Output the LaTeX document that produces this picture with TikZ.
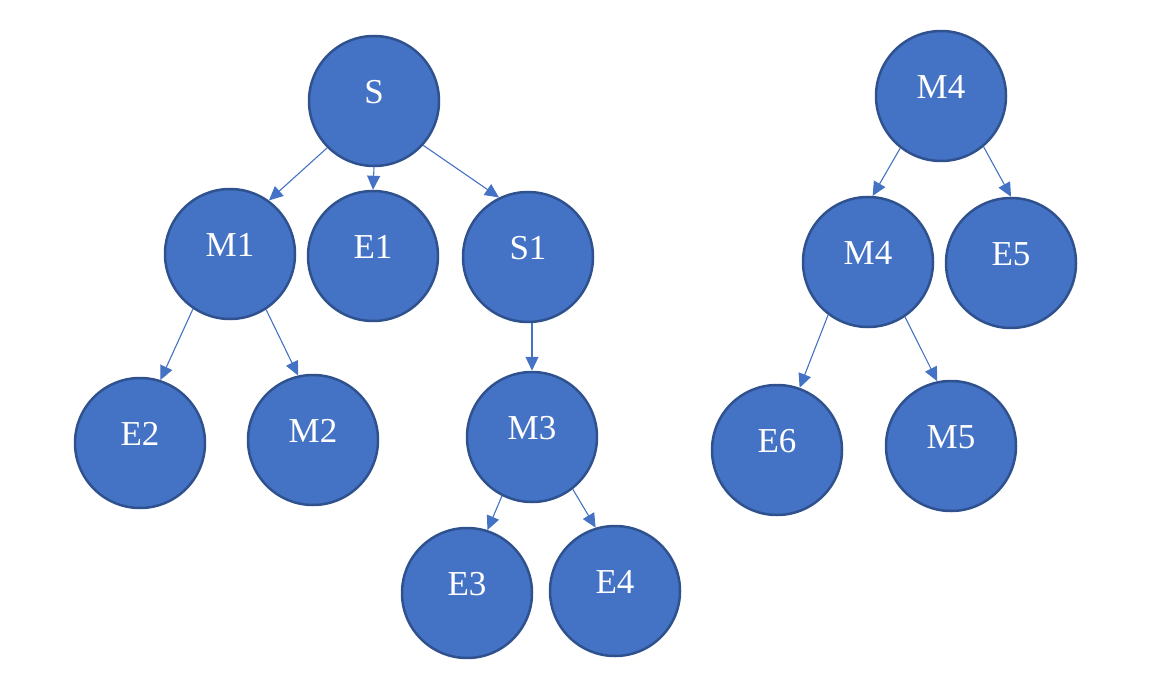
\documentclass[tikz,border=0pt]{standalone}
\usepackage{fontspec}
\setmainfont{Liberation Serif}
\usetikzlibrary{arrows.meta}
\definecolor{nodefill}{HTML}{4472C4}
\definecolor{nodeedge}{HTML}{2F528F}
\begin{document}
\begin{tikzpicture}[x=1pt,y=-1pt,
  lbl/.style={text=white,font=\fontsize{35pt}{40pt}\selectfont,yshift=9pt,inner sep=0pt},
  tnode/.style={circle,fill=nodefill,draw=nodeedge,line width=2.5pt,minimum size=130pt,inner sep=0pt,
    label={[lbl]center:#1}},
  link/.style={draw=nodefill,line width=1.1pt,-{Triangle[length=14pt,width=13pt]}}]
\useasboundingbox (0,0) rectangle (1160,695);
% left tree
\node[tnode=S]  (S)  at (374,101) {};
\node[tnode=M1] (M1) at (230,254) {};
\node[tnode=E1] (E1) at (373,256) {};
\node[tnode=S1] (S1) at (528,257) {};
\node[tnode=E2] (E2) at (140,443) {};
\node[tnode=M2] (M2) at (313,440) {};
\node[tnode=M3] (M3) at (532,437) {};
\node[tnode=E3] (E3) at (467,593) {};
\node[tnode=E4] (E4) at (615,591) {};
% right tree
\node[tnode=M4] (T)  at (941,96)  {};
\node[tnode=M4] (M4) at (868,262) {};
\node[tnode=E5] (E5) at (1011,263) {};
\node[tnode=E6] (E6) at (777,450) {};
\node[tnode=M5] (M5) at (951,446) {};
% connectors
\draw[link] (S.225) -- (M1.54);
\draw[link] (S.south) -- (E1.north);
\draw[link] (S.-42) -- (S1.116);
\draw[link] (M1.236) -- (E2.72);
\draw[link] (M1.-57) -- (M2.103);
\draw[link] (M3.north |- S1.south) -- (M3.north);
\draw[link] (M3.243) -- (E3.72);
\draw[link] (M3.-52) -- (E4.107);
\draw[link] (T.232) -- (M4.86);
\draw[link] (T.-50) -- (E5.north);
\draw[link] (M4.233) -- (E6.70);
\draw[link] (M4.-56) -- (M5.102);
\end{tikzpicture}
\end{document}
